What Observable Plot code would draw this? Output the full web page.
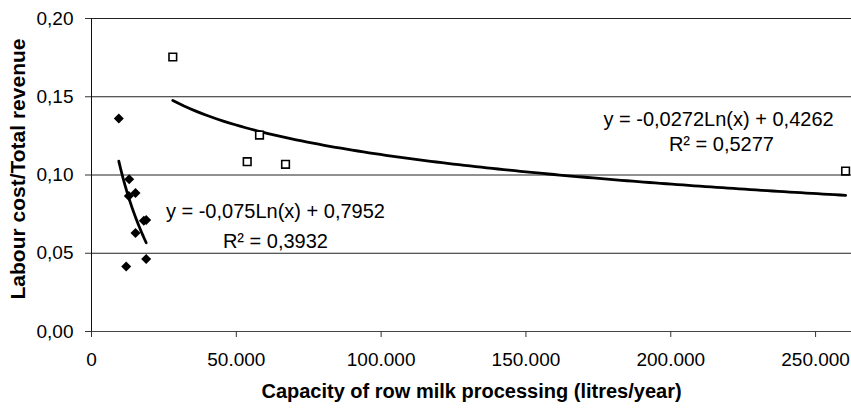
<!DOCTYPE html>
<html>
<head>
<meta charset="utf-8">
<script src="https://cdn.jsdelivr.net/npm/d3@7"></script>
<script src="https://cdn.jsdelivr.net/npm/@observablehq/plot@0.6"></script>
<style>
  html, body { margin: 0; padding: 0; background: white; }
</style>
</head>
<body>
<div id="chart"></div>
<script>
// ---- data ----
const diamondX = [9430, 13020, 15190, 12880, 18890, 18060, 15190, 18890, 11980];
const diamondY = [0.1361, 0.0973, 0.0885, 0.0866, 0.0713, 0.0707, 0.0629, 0.0463, 0.0416];
const squareX = [28070, 58010, 53760, 66990, 260360];
const squareY = [0.1754, 0.1255, 0.1085, 0.1068, 0.1025];

// logarithmic trendline coefficients printed on the chart: y = a*ln(x) + b
const fitDiamond = [-0.075, 0.7952];
const fitSquare = [-0.0272, 0.4262];

const xTicks = [0, 50000, 100000, 150000, 200000, 250000];
const yTicks = [0, 0.05, 0.10, 0.15, 0.20];
const gridY = [0.05, 0.10, 0.15, 0.20];

const xTitle = "Capacity of row milk processing (litres/year)";
const yTitle = "Labour cost/Total revenue";

const labelText = [
  "y = -0,0272Ln(x) + 0,4262", "R\u00b2 = 0,5277",
  "y = -0,075Ln(x) + 0,7952", "R\u00b2 = 0,3932"
];
const labelX = [216500, 217500, 63500, 63500];
const labelY = [0.1312, 0.1153, 0.0726, 0.0535];

// ---- build tables ----
const diamonds = diamondX.map((x, i) => ({x, y: diamondY[i]}));
const squares = squareX.map((x, i) => ({x, y: squareY[i]}));
function curve(xs, [a, b]) {
  const lo = d3.min(xs), hi = d3.max(xs);
  const n = 120;
  return d3.range(n + 1).map(i => {
    const x = lo + (hi - lo) * i / n;
    return {x, y: a * Math.log(x) + b};
  });
}
const curveD = curve(diamondX, fitDiamond);
const curveS = curve(squareX, fitSquare);
const labels = labelText.map((t, i) => ({t, x: labelX[i], y: labelY[i]}));

const fmtX = d => d === 0 ? "0" : d3.format(",")(d).replace(/,/g, ".");
const fmtY = d => d.toFixed(2).replace(".", ",");

const chart = Plot.plot({
  width: 851,
  height: 409,
  marginLeft: 91,
  marginRight: 0,
  marginTop: 18,
  marginBottom: 78,
  style: {fontFamily: "'Liberation Sans', Arial, sans-serif", fontSize: "19px", color: "black", background: "white"},
  x: {domain: [0, 262400]},
  y: {domain: [0, 0.2]},
  marks: [
    Plot.ruleY(gridY, {stroke: "#222", strokeWidth: 1}),
    Plot.ruleY([0], {stroke: "#444", strokeWidth: 1}),
    Plot.ruleX([0], {y1: 0, y2: 0.2, stroke: "#111", strokeWidth: 1}),
    Plot.axisX({ticks: xTicks, tickFormat: fmtX, tickSize: 6, tickPadding: 15, label: null, fontSize: 19, stroke: "#333"}),
    Plot.axisY({ticks: yTicks, tickFormat: fmtY, tickSize: 6, tickPadding: 12, label: null, fontSize: 19, stroke: "#333"}),
    Plot.line(curveS, {x: "x", y: "y", stroke: "black", strokeWidth: 2.8}),
    Plot.line(curveD, {x: "x", y: "y", stroke: "black", strokeWidth: 2.8}),
    Plot.dot(diamonds, {x: "x", y: "y", symbol: "diamond2", r: 4.5, fill: "black", stroke: "none"}),
    Plot.dot(squares, {x: "x", y: "y", symbol: "square", r: 4.3, fill: "white", stroke: "black", strokeWidth: 1.6}),
    Plot.text(labels, {x: "x", y: "y", text: "t", textAnchor: "middle", lineAnchor: "bottom", fontSize: 20, fill: "black"}),
    Plot.text([xTitle], {frameAnchor: "bottom", dy: 66, textAnchor: "middle", lineAnchor: "bottom", fontSize: 20, fontWeight: "bold", fill: "black"}),
    Plot.text([yTitle], {frameAnchor: "left", dx: -81, dy: -6, rotate: -90, textAnchor: "middle", lineAnchor: "top", fontSize: 21, fontWeight: "bold", fill: "black"})
  ]
});
document.getElementById("chart").appendChild(chart);
</script>
</body>
</html>
